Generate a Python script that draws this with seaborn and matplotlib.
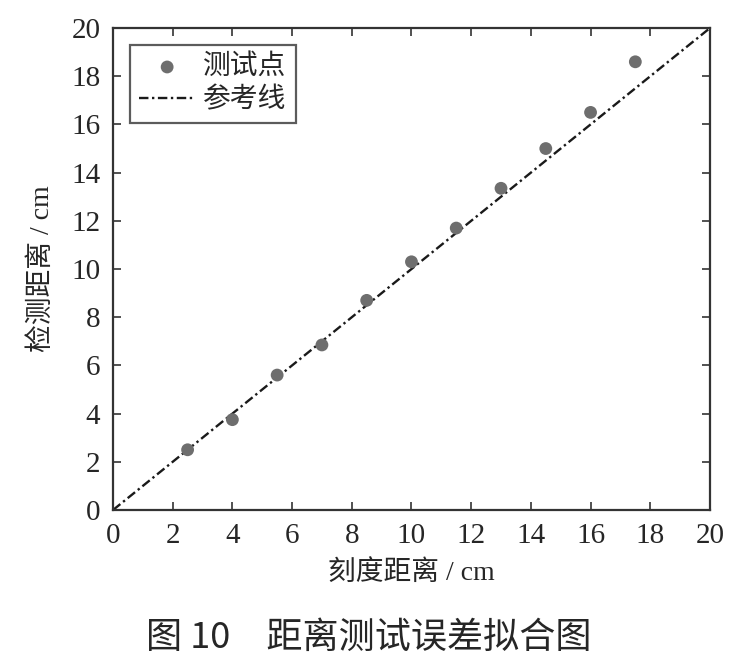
import numpy as np
import pandas as pd
import matplotlib
matplotlib.use('Agg')
import matplotlib.pyplot as plt
import seaborn as sns

# data
scale_dist = [2.5, 4, 5.5, 7, 8.5, 10, 11.5, 13, 14.5, 16, 17.5]
measured_dist = [2.5, 3.75, 5.6, 6.85, 8.7, 10.3, 11.7, 13.35, 15.0, 16.5, 18.6]
ref_x = [0, 20]
ref_y = [0, 20]
ticks = list(range(0, 21, 2))

df = pd.DataFrame({'x': scale_dist, 'y': measured_dist})
ref = pd.DataFrame({'x': ref_x, 'y': ref_y})

sns.set_style('ticks')
plt.rcParams['font.family'] = ['Liberation Serif', 'Noto Sans CJK SC']
plt.rcParams['axes.unicode_minus'] = False

fig = plt.figure(figsize=(7.37, 6.68), dpi=100)
ax = fig.add_axes([0.1533, 0.2365, 0.81, 0.7215])

sns.scatterplot(data=df, x='x', y='y', ax=ax, color='#6e6e6e', s=85,
                edgecolor='none', label='测试点', zorder=3)
sns.lineplot(data=ref, x='x', y='y', ax=ax, color='#1a1a1a', linewidth=1.7,
             linestyle=(0, (4, 1.5, 1, 1.5)), label='参考线', zorder=2)

ax.set_xlim(0, 20)
ax.set_ylim(0, 20)
ax.set_xticks(ticks)
ax.set_yticks(ticks)
ax.tick_params(direction='in', length=6, width=1.2, labelsize=21,
               top=True, right=True, color='#333333', pad=9)
for s in ax.spines.values():
    s.set_linewidth(1.6)
    s.set_color('#333333')

ax.set_xlabel('刻度距离 / cm', fontsize=20, labelpad=8)
ax.set_ylabel('检测距离 / cm', fontsize=20, labelpad=12)

leg = ax.legend(loc='upper left', fontsize=20, frameon=True, fancybox=False,
                edgecolor='#333333', borderpad=0.35, handlelength=2.0,
                handletextpad=0.3, labelspacing=0.25, borderaxespad=0.6)
leg.get_frame().set_linewidth(1.6)

fig.text(0.5, 0.045, '图 10　距离测试误差拟合图', ha='center', va='center',
         fontsize=26, fontweight='medium', family=['Noto Sans CJK SC'])

fig.savefig('out.png', dpi=100)
